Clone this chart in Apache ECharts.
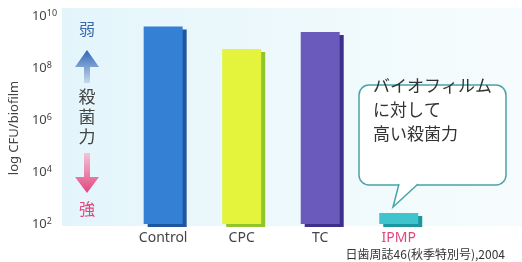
<!DOCTYPE html>
<html>
<head>
<meta charset="utf-8">
<script src="https://cdn.jsdelivr.net/npm/echarts@6/dist/echarts.min.js"></script>
<style>
  html, body { margin: 0; padding: 0; background: #fff; }
  #chart { width: 522px; height: 262px; }
</style>
</head>
<body>
<div id="chart"></div>
<script>
  // 菌数（log CFU/biofilm）
  const categories = ['Control', 'CPC', 'TC', 'IPMP']
  const logCfu = [9.6, 8.73, 9.38, 2.42]
  const barColors = ['#3380d4', '#e4f43c', '#6a5abb', '#3fc4cc']
  const shadowColors = ['#1f56a0', '#92c42c', '#3f2f8c', '#1c97a0']
  const tickExp = ['2', '4', '6', '8', '10']

  const font = '"Noto Sans", "Noto Sans CJK JP", sans-serif'
  const jp = '"Noto Sans CJK JP", sans-serif'

  let myChart = echarts.init(document.getElementById('chart'))

  let barData = logCfu.map((v, i) => {
    return {
      value: v,
      itemStyle: {
        color: barColors[i],
        shadowColor: shadowColors[i],
        shadowBlur: 0,
        shadowOffsetX: 4,
        shadowOffsetY: 3
      }
    }
  })

  let option = {
    animation: false,
    grid: {
      top: 16,
      bottom: 38,
      left: 122,
      right: 84
    },
    xAxis: {
      type: 'category',
      data: categories.map(c => c === 'IPMP' ? {value: c, textStyle: {color: '#e2457e'}} : c),
      axisLine: {show: false},
      axisTick: {show: false},
      axisLabel: {
        margin: 7,
        fontSize: 14,
        color: '#444',
        fontFamily: font
      },
      z: 10
    },
    yAxis: {
      type: 'value',
      min: 2,
      max: 10,
      interval: 2,
      name: 'log CFU/biofilm',
      nameLocation: 'middle',
      nameGap: 96,
      nameTextStyle: {
        fontSize: 13,
        color: '#444',
        fontFamily: font,
        padding: [0, 0, 0, -16]
      },
      axisLine: {show: false},
      axisTick: {show: false},
      splitLine: {show: false},
      axisLabel: {
        align: 'left',
        margin: 92,
        formatter: v => '{b|10}{s|' + tickExp[(v - 2) / 2] + '}',
        rich: {
          b: {fontSize: 13, color: '#444', fontFamily: font},
          s: {fontSize: 9, color: '#444', fontFamily: font, verticalAlign: 'top', padding: [0, 0, 6, 0]}
        }
      }
    },
    graphic: [
      {
        type: 'rect', z: -10, silent: true,
        shape: {x: 62, y: 8, width: 460, height: 218},
        style: {
          fill: new echarts.graphic.LinearGradient(0, 0, 1, 0, [
            {offset: 0, color: '#e3f5fb'},
            {offset: 0.5, color: '#eef9fc'},
            {offset: 1, color: '#f6fcfd'}
          ])
        }
      },
      // 弱 ↑ 殺菌力 ↓ 強
      {type: 'text', style: {x: 87, y: 29, text: '弱', fill: '#3a68b0', font: '16px ' + jp, align: 'center', verticalAlign: 'middle'}},
      {
        type: 'polygon',
        shape: {points: [[87, 50], [99, 67], [90, 67], [90, 83], [84, 83], [84, 67], [75, 67]]},
        style: {
          fill: new echarts.graphic.LinearGradient(0, 0, 0, 1, [
            {offset: 0, color: '#2f66b8'},
            {offset: 1, color: '#c9d8ee'}
          ])
        }
      },
      {type: 'text', style: {x: 87, y: 117, text: '殺\n菌\n力', fill: '#444', font: '17px ' + jp, lineHeight: 20, align: 'center', verticalAlign: 'middle'}},
      {
        type: 'polygon',
        shape: {points: [[84, 153], [90, 153], [90, 177], [99, 177], [87, 193], [75, 177], [84, 177]]},
        style: {
          fill: new echarts.graphic.LinearGradient(0, 0, 0, 1, [
            {offset: 0, color: '#f4c4d8'},
            {offset: 1, color: '#e2457e'}
          ])
        }
      },
      {type: 'text', style: {x: 87, y: 209, text: '強', fill: '#e2457e', font: '16px ' + jp, align: 'center', verticalAlign: 'middle'}},
      // 吹き出し
      {
        type: 'rect', z: 20,
        shape: {x: 359, y: 85, width: 147, height: 100, r: 10},
        style: {fill: '#fff', stroke: '#4aa3a6', lineWidth: 1.5}
      },
      {
        type: 'polyline', z: 21,
        shape: {points: [[399, 184], [393, 207], [418, 184]]},
        style: {stroke: '#4aa3a6', lineWidth: 1.5, fill: '#fff'}
      },
      {type: 'rect', z: 22, shape: {x: 400, y: 183, width: 16, height: 2}, style: {fill: '#fff'}},
      {
        type: 'text', z: 23,
        style: {
          x: 373, y: 110,
          text: 'バイオフィルム\nに対して\n高い殺菌力',
          fill: '#333',
          font: '17px ' + jp,
          lineHeight: 24,
          verticalAlign: 'middle'
        }
      },
      {type: 'text', style: {x: 505, y: 254, text: '日歯周誌46(秋季特別号),2004', fill: '#333', font: '12px ' + jp, align: 'right', verticalAlign: 'middle'}}
    ],
    series: [
      {
        type: 'bar',
        data: barData,
        barWidth: 39
      }
    ]
  }
  myChart.setOption(option, true)
</script>
</body>
</html>
